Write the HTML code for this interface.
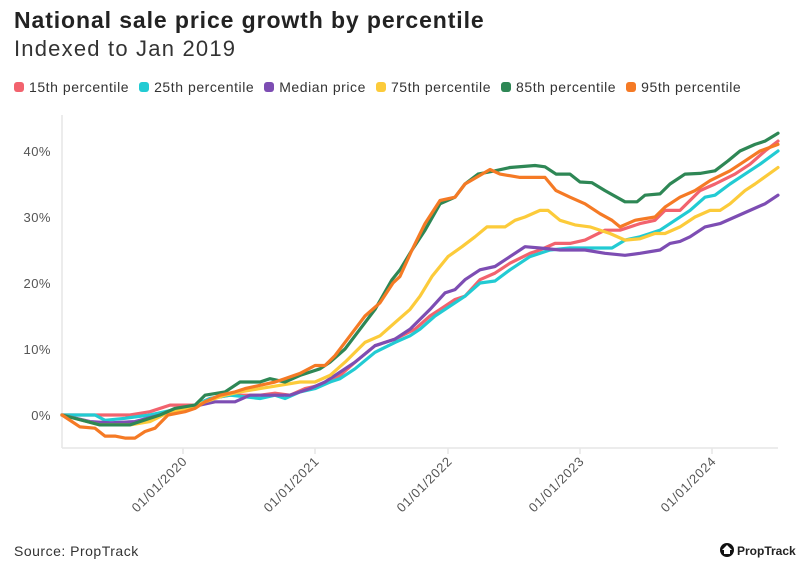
<!DOCTYPE html>
<html><head><meta charset="utf-8"><style>
body{margin:0;background:#fff;width:800px;height:578px;overflow:hidden;font-family:"Liberation Sans",sans-serif;color:#333}
.t{position:absolute;left:14px;top:7px;font-size:23px;font-weight:bold;color:#222;letter-spacing:0.9px}
.s{position:absolute;left:14px;top:36px;font-size:22px;color:#333;letter-spacing:1.2px}
.lg{position:absolute;left:14px;top:79px;font-size:14px;color:#333;display:flex;gap:0;letter-spacing:0.55px}
.lg span{display:inline-flex;align-items:center;margin-right:10px}
.lg i{display:inline-block;width:10px;height:10px;border-radius:3px;margin-right:5px}
.src{position:absolute;left:14px;top:543px;font-size:14px;color:#333;letter-spacing:0.5px}
</style></head><body>
<div class="t">National sale price growth by percentile</div>
<div class="s">Indexed to Jan 2019</div>
<div class="lg">
<span><i style="background:#f2636e"></i>15th percentile</span>
<span><i style="background:#22cbd3"></i>25th percentile</span>
<span><i style="background:#7d4db3"></i>Median price</span>
<span><i style="background:#fccb3a"></i>75th percentile</span>
<span><i style="background:#2e8755"></i>85th percentile</span>
<span><i style="background:#f57a25"></i>95th percentile</span>
</div>
<svg id="c" width="800" height="578" style="position:absolute;left:0;top:0">
<line x1="62" y1="448" x2="778" y2="448" stroke="#e6e6e6" stroke-width="1.5"/>
<line x1="62" y1="115" x2="62" y2="448" stroke="#e6e6e6" stroke-width="1.5"/>
<g font-size="13" fill="#555" text-anchor="end" letter-spacing="0.5">
<text x="51" y="420">0%</text><text x="51" y="354">10%</text><text x="51" y="288">20%</text><text x="51" y="222">30%</text><text x="51" y="156">40%</text>
</g>
<g stroke="#e6e6e6" stroke-width="1.5">
<line x1="183" y1="448" x2="183" y2="454"/><line x1="315" y1="448" x2="315" y2="454"/><line x1="448" y1="448" x2="448" y2="454"/><line x1="580" y1="448" x2="580" y2="454"/><line x1="712" y1="448" x2="712" y2="454"/>
</g>
<g font-size="13" fill="#555" text-anchor="end" letter-spacing="0.7">
<text transform="translate(188,462) rotate(-45)">01/01/2020</text>
<text transform="translate(320,462) rotate(-45)">01/01/2021</text>
<text transform="translate(453,462) rotate(-45)">01/01/2022</text>
<text transform="translate(585,462) rotate(-45)">01/01/2023</text>
<text transform="translate(717,462) rotate(-45)">01/01/2024</text>
</g>
<g id="lines" fill="none" stroke-width="3.2" stroke-linejoin="round" stroke-linecap="round"></g>
<circle cx="727" cy="550" r="7" fill="#111"/>
<path d="M722 550 L727 545 L732 550 L730 550 L730 554 L724 554 L724 550 Z" fill="#fff"/>
<text x="737" y="555" font-size="12" font-weight="bold" fill="#222">PropTrack</text>
</svg>
<div class="src">Source: PropTrack</div>
<script>
var S=[
["#f2636e",[62,0,130,0,150,.5,170,1.5,195,1.5,210,2.5,230,3,260,3,275,3.3,290,3,305,4,320,4.5,330,5,340,6,355,8,375,10.5,395,11.5,415,13,430,15,440,16,455,17.5,465,18,480,20.5,495,21.5,510,23,530,24.5,540,25,555,26,570,26,585,26.5,605,28,620,28,640,29,655,29.5,665,31,680,31,690,32.5,700,34,715,35,735,36.5,750,38,765,40,778,41.5]],
["#22cbd3",[62,0,95,0,105,-.8,125,-.5,150,0,165,.5,180,1,195,1.5,210,2.5,230,3,260,2.5,275,3,285,2.5,300,3.5,315,4,330,5,340,5.5,355,7,375,9.5,395,11,410,12,420,13,435,15,455,17,465,18,480,20,495,20.3,510,22,530,24,550,25,570,25.3,612,25.3,625,26.5,640,27,650,27.5,660,28,675,29.5,690,31,705,33,715,33.3,730,35,745,36.5,760,38,778,40]],
["#7d4db3",[62,0,90,-1,110,-1.2,135,-1,160,0,180,1,200,1.5,215,2,235,2,250,3,290,3,300,3.5,310,4,325,5,335,6,355,8,375,10.5,395,11.5,410,13,430,16,445,18.5,455,19,465,20.5,480,22,495,22.5,510,24,525,25.5,540,25.3,560,25,585,25,605,24.5,625,24.2,640,24.5,660,25,670,26,680,26.3,690,27,705,28.5,720,29,735,30,750,31,765,32,778,33.3]],
["#fccb3a",[62,0,100,-1.5,130,-1.5,150,-1,170,.5,190,1,205,2,225,3,240,3.5,260,4,280,4.5,300,5,315,5,330,6,345,8,365,11,380,12,395,14,410,16,420,18,432,21,448,24,462,25.5,475,27,487,28.5,505,28.5,515,29.5,525,30,540,31,548,31,560,29.5,575,28.8,590,28.5,610,27.5,625,26.5,640,26.7,655,27.5,665,27.5,680,28.5,695,30,710,31,720,31,730,32,745,34,755,35,778,37.5]],
["#2e8755",[62,0,100,-1.5,130,-1.5,160,0,175,1,195,1.5,205,3,225,3.5,240,5,260,5,270,5.5,285,5,300,6,320,7,330,8,345,10,360,13,375,16,392,20.5,400,22,412,25,425,28,440,32,455,33,465,35,478,36.5,495,37,510,37.5,535,37.8,545,37.6,556,36.5,570,36.5,580,35.3,592,35.2,605,34,625,32.3,637,32.3,645,33.3,660,33.5,670,35,685,36.5,700,36.6,715,37,728,38.5,740,40,755,41,765,41.5,778,42.7]],
["#f57a25",[62,0,80,-1.8,95,-2,105,-3.2,115,-3.2,125,-3.5,135,-3.5,145,-2.5,155,-2,168,0,185,.5,195,1,205,2,220,3,235,3.5,245,4,260,4.5,275,5,285,5.5,300,6.3,315,7.5,325,7.5,335,9,350,12,365,15,380,17,393,20,400,21,412,25,425,29,440,32.5,455,33,465,35,490,37.2,500,36.5,520,36,545,36,556,34,570,33,585,32,600,30.5,612,29.5,620,28.5,635,29.5,655,30,665,31.5,680,33,695,34,710,35.5,730,37,745,38.5,760,40,778,41]]];
var g=document.getElementById('lines'),h='';
S.forEach(function(s){var p=[],d=s[1];for(var i=0;i<d.length;i+=2)p.push(d[i]+','+(415-6.6*d[i+1]).toFixed(1));h+='<polyline stroke="'+s[0]+'" points="'+p.join(' ')+'"/>';});
g.innerHTML=h;
</script>
</body></html>
